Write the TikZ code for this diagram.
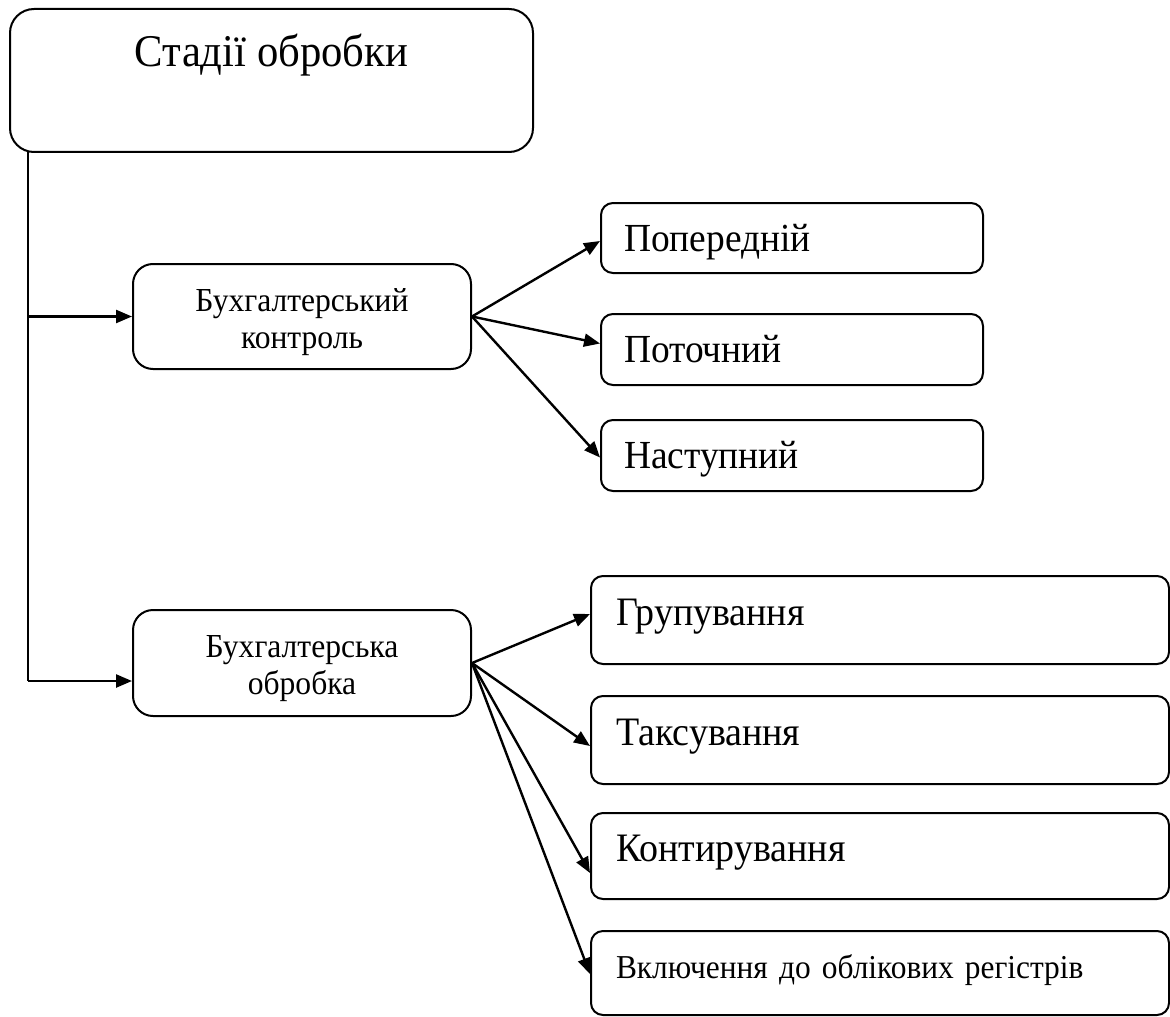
\documentclass[tikz,border=0pt]{standalone}
\usepackage{fontspec}
\setmainfont{Liberation Serif}[FakeStretch=0.94]
\usetikzlibrary{arrows.meta,calc}
\begin{document}
\begin{tikzpicture}[x=0.5pt,y=-0.5pt,
  box/.style={draw,line width=1pt,rounded corners=#1,inner sep=0pt,anchor=north west},
  midbox/.style={box=10pt,minimum width=169pt,minimum height=52.5pt,align=center,
    text height=31.5pt,text depth=0pt,font=\fontsize{16.8}{18.5}\selectfont},
  rbox/.style={box=6pt,minimum width=191pt,text width=168pt,inner xsep=11.5pt,align=left,
    text height=13pt,text depth=0pt,font=\fontsize{19.9}{23}\selectfont},
  lbox/.style={box=6pt,minimum width=289pt,text width=264pt,inner xsep=12.5pt,align=left,
    text height=5pt,text depth=0pt,font=\fontsize{20.2}{23}\selectfont},
  arr/.style={line width=1.2pt,-{Triangle[length=8pt,width=6.5pt]}},
]
\useasboundingbox (0,0) rectangle (1170,1016);
\node[box=12pt,minimum width=261.5pt,minimum height=71.5pt,text height=0pt,text depth=13.5pt,
  font=\fontsize{22.7}{26}\selectfont] (top) at (9,8) {Стадії обробки};
\node[midbox] (ctrl) at (132,263) {Бухгалтерський\\контроль};
\node[midbox,minimum height=53pt] (obr) at (132,609) {Бухгалтерська\\обробка};
\node[rbox,minimum height=35pt] (p1) at (600,202) {Попередній};
\node[rbox,minimum height=35.5pt] (p2) at (600,313) {Поточний};
\node[rbox,minimum height=35.5pt] (p3) at (600,419) {Наступний};
\node[lbox,minimum height=44pt] (g1) at (590,575) {Групування};
\node[lbox,minimum height=44pt] (g2) at (590,695) {Таксування};
\node[lbox,minimum height=43pt] (g3) at (590,812) {Контирування};
\node[lbox,minimum height=42pt,font=\fontsize{16.7}{19}\selectfont] (g4) at (590,930) {Включення до облікових регістрів};
\coordinate (s) at (28,151);
\coordinate (obrin) at ($(obr.west)+(0,18)$);
\draw[line width=1pt] (s) -- (s |- obrin);
\draw[arr] (s |- obrin) -- (obrin);
\draw[arr] (s |- ctrl.west) -- (ctrl.west);
\draw[arr] (ctrl.east) -- ($(p1.west)+(0,3)$);
\draw[arr] (ctrl.east) -- ($(p2.west)+(0,-6)$);
\draw[arr] (ctrl.east) -- ($(p3.west)+(0,2)$);
\draw[arr] (obr.east) -- ($(g1.west)+(0,-6)$);
\draw[arr] (obr.east) -- ($(g2.west)+(0,6)$);
\draw[arr] (obr.east) -- ($(g3.west)+(0,17)$);
\draw[arr] (obr.east) -- ($(g4.west)+(0,1)$);
\end{tikzpicture}
\end{document}
